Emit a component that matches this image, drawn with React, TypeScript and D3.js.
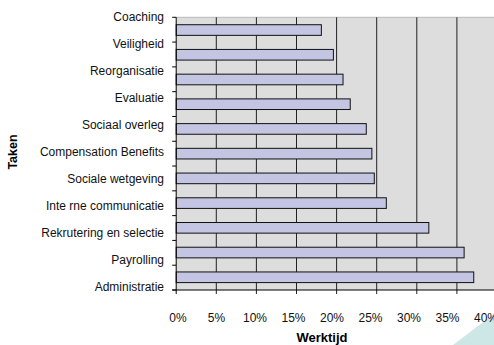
import React, { useEffect, useRef } from 'react';
import * as d3 from 'd3';

// categorieën van boven naar onder
const taken = [
  'Coaching',
  'Veiligheid',
  'Reorganisatie',
  'Evaluatie',
  'Sociaal overleg',
  'Compensation Benefits',
  'Sociale wetgeving',
  'Inte rne communicatie',
  'Rekrutering en selectie',
  'Payrolling',
  'Administratie',
];
const werktijd = [18.1, 19.6, 20.8, 21.7, 23.7, 24.4, 24.7, 26.2, 31.5, 35.9, 37.1];
const xTicks = [0, 5, 10, 15, 20, 25, 30, 35, 40];

const App: React.FC = () => {
  const ref = useRef<SVGSVGElement>(null);

  useEffect(() => {
    const svg = d3.select(ref.current);
    svg.selectAll('*').remove();

    const width = 494;
    const height = 345;
    const left = 176.2;
    const right = 497;
    const top = 17.3;
    const bottom = 290;
    const font = 'Liberation Sans, Arial, sans-serif';

    const x = d3.scaleLinear().domain([0, 40]).range([left, right]);
    // ticklabels staan iets dichter op elkaar dan de rasterlijnen
    const xLabel = d3.scaleLinear().domain([0, 40]).range([178, 486]);
    const y = d3.scaleBand().domain(taken).range([top, bottom]).paddingInner(0.57).paddingOuter(0.3);
    const labelY = d3.scalePoint().domain(taken).range([top, 286.9]);
    const bounds = d3.range(taken.length + 1).map((i) => top + (i * (bottom - top)) / taken.length);

    svg.attr('width', width).attr('height', height);

    // decoratie rechtsonder
    svg.append('polygon')
      .attr('points', '453,345 494,314 494,345')
      .attr('fill', '#cde6e6');

    // plotvlak
    svg.append('rect')
      .attr('x', left).attr('y', top)
      .attr('width', width - left).attr('height', bottom - top)
      .attr('fill', '#dddddd');
    svg.append('line')
      .attr('x1', left).attr('x2', width).attr('y1', top).attr('y2', top)
      .attr('stroke', '#b8b8b8');

    // rasterlijnen
    svg.append('g').selectAll('line')
      .data(xTicks.slice(1))
      .enter().append('line')
      .attr('x1', (d) => x(d)).attr('x2', (d) => x(d))
      .attr('y1', top).attr('y2', bottom + 4)
      .attr('stroke', '#222').attr('stroke-width', 1);

    // balken
    svg.append('g').selectAll('rect')
      .data(taken)
      .enter().append('rect')
      .attr('x', x(0))
      .attr('y', (d) => y(d) || 0)
      .attr('width', (d, i) => x(werktijd[i]) - x(0))
      .attr('height', y.bandwidth())
      .attr('fill', '#c4c4e3')
      .attr('stroke', '#111').attr('stroke-width', 1);

    // assen
    svg.append('line')
      .attr('x1', left).attr('x2', left).attr('y1', top).attr('y2', bottom + 4)
      .attr('stroke', '#000');
    svg.append('line')
      .attr('x1', left - 4).attr('x2', width).attr('y1', bottom).attr('y2', bottom)
      .attr('stroke', '#000');
    svg.append('g').selectAll('line')
      .data(bounds)
      .enter().append('line')
      .attr('x1', left - 4).attr('x2', left)
      .attr('y1', (d) => d).attr('y2', (d) => d)
      .attr('stroke', '#000');

    // labels
    svg.append('g').selectAll('text')
      .data(taken)
      .enter().append('text')
      .attr('x', 164)
      .attr('y', (d) => (labelY(d) || 0) + 4)
      .attr('text-anchor', 'end')
      .style('font-family', font).style('font-size', '12px').attr('fill', '#111')
      .text((d) => d);

    svg.append('g').selectAll('text')
      .data(xTicks)
      .enter().append('text')
      .attr('x', (d) => xLabel(d))
      .attr('y', 322)
      .attr('text-anchor', 'middle')
      .style('font-family', font).style('font-size', '12px').attr('fill', '#111')
      .text((d) => `${d}%`);

    svg.append('text')
      .attr('x', 322).attr('y', 342)
      .attr('text-anchor', 'middle')
      .style('font-family', font).style('font-size', '13px').style('font-weight', 'bold')
      .text('Werktijd');

    svg.append('text')
      .attr('transform', 'translate(17,152) rotate(-90)')
      .attr('text-anchor', 'middle')
      .style('font-family', font).style('font-size', '12.5px').style('font-weight', 'bold')
      .text('Taken');
  }, []);

  return <svg ref={ref} style={{ position: 'absolute', left: 0, top: 0 }}></svg>;
};

export default App;
